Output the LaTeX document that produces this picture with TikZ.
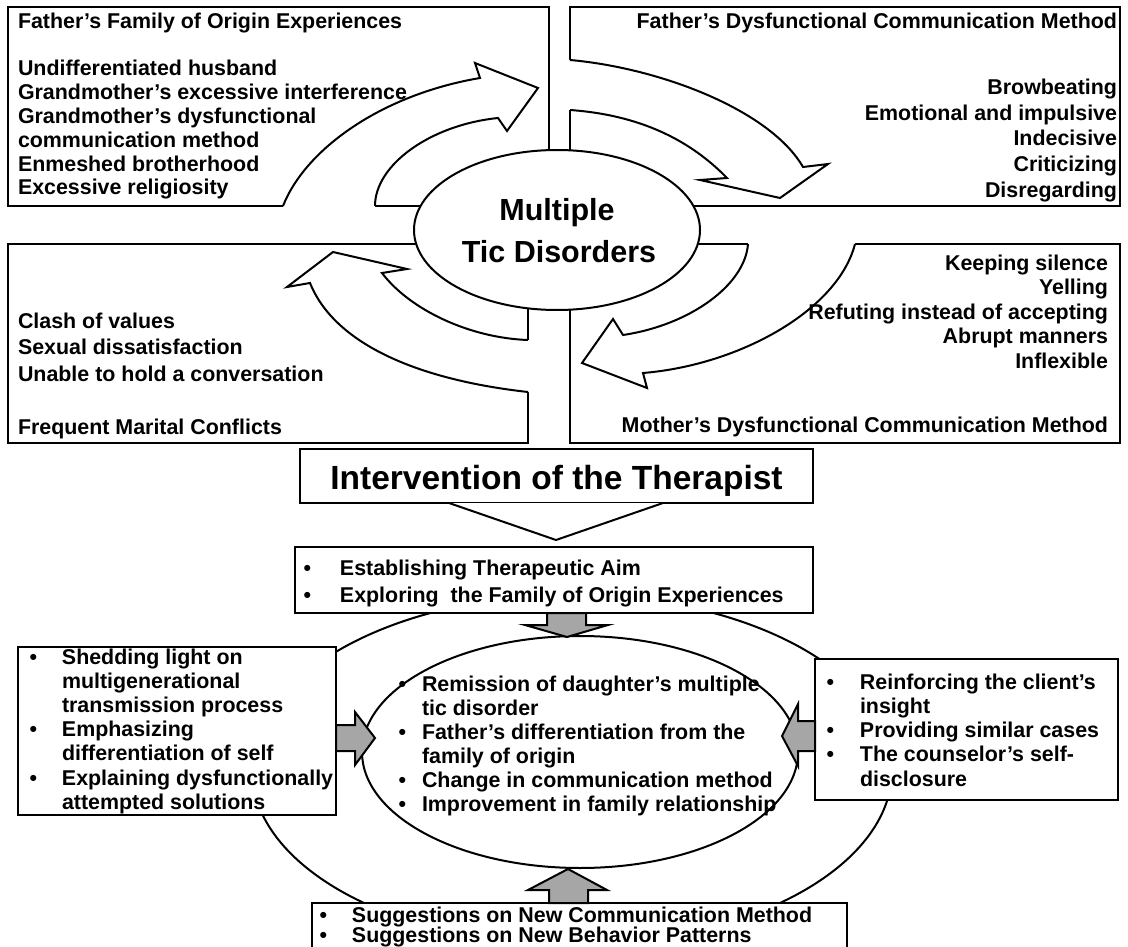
\documentclass[tikz,border=0pt]{standalone}
\usepackage{fontspec}
\setmainfont{Liberation Sans}
\usetikzlibrary{shapes.geometric}
\definecolor{pushgray}{RGB}{166,166,166}
\begin{document}
\begin{tikzpicture}[x=1pt,y=-1pt,line width=2pt,line join=miter,
  panel/.style={draw=black,fill=white,rectangle,inner sep=0pt,outer sep=0pt},
  oval/.style={draw=black,ellipse,inner sep=0pt,outer sep=0pt},
  txt/.style={font=\fontsize{21.4}{24}\selectfont\bfseries,inner sep=0pt,outer sep=0pt},
  bigtxt/.style={font=\fontsize{30.5}{36}\selectfont\bfseries,inner sep=0pt},
  headtxt/.style={font=\fontsize{33.5}{38}\selectfont\bfseries,inner sep=0pt},
  bendfill/.style={fill=white,draw=none},
  bendline/.style={draw=black},
  push/.style={draw=black,fill=pushgray}]
\useasboundingbox (0,0) rectangle (1128,947);
\fill[white] (0,0) rectangle (1128,947);

% four quadrant panels
\node[panel,minimum width=541pt,minimum height=199pt] (pTL) at (278.5,106.5) {};
\node[panel,minimum width=550pt,minimum height=199pt] (pTR) at (845,106.5) {};
\node[panel,minimum width=520pt,minimum height=199pt] (pBL) at (268,343.5) {};
\node[panel,minimum width=550pt,minimum height=199pt] (pBR) at (845,343.5) {};

% curved block arrows circling the centre
\path[bendfill] (283,206) .. controls (305,150) and (380,95) .. (480,78) -- (475,63) -- (538,88) -- (507,131) -- (498,118)
  .. controls (430,125) and (375,165) .. (375,206) -- (375,211) -- (283,211) -- cycle;
\path[bendline] (283,206) .. controls (305,150) and (380,95) .. (480,78) -- (475,63) -- (538,88) -- (507,131) -- (498,118)
  .. controls (430,125) and (375,165) .. (375,206);

\path[bendfill] (570,60) .. controls (660,68) and (770,110) .. (803,167) -- (828,164) -- (780,198) -- (700,180) -- (727,178)
  .. controls (690,140) and (640,115) .. (570,110) -- (566,110) -- (566,60) -- cycle;
\path[bendline] (570,60) .. controls (660,68) and (770,110) .. (803,167) -- (828,164) -- (780,198) -- (700,180) -- (727,178)
  .. controls (690,140) and (640,115) .. (570,110);

\path[bendfill] (528,340) .. controls (470,338) and (410,310) .. (382,273) -- (407,269) -- (333,252) -- (287,287) -- (310,283)
  .. controls (335,345) and (420,380) .. (528,392) -- (532,392) -- (532,340) -- cycle;
\path[bendline] (528,340) .. controls (470,338) and (410,310) .. (382,273) -- (407,269) -- (333,252) -- (287,287) -- (310,283)
  .. controls (335,345) and (420,380) .. (528,392);

\path[bendfill] (748,244) .. controls (745,285) and (690,325) .. (623,335) -- (613,319) -- (582,363) -- (647,388) -- (643,373)
  .. controls (740,365) and (838,310) .. (855,244) -- (855,240) -- (748,240) -- cycle;
\path[bendline] (748,244) .. controls (745,285) and (690,325) .. (623,335) -- (613,319) -- (582,363) -- (647,388) -- (643,373)
  .. controls (740,365) and (838,310) .. (855,244);

% central oval
\node[oval,fill=white,minimum width=286pt,minimum height=160pt] (core) at (557,230) {};

% therapist intervention
\node[panel,minimum width=513pt,minimum height=54pt] (interv) at (556.5,476) {};
\draw[fill=white] (449,503) -- (556,540) -- (663,503);

% outer ring and inner oval
\node[oval,minimum width=640pt,minimum height=350pt] (ring) at (572,770) {};
\node[oval,fill=white,minimum width=436pt,minimum height=232pt] (goal) at (580,752) {};

% technique panels
\node[panel,minimum width=518pt,minimum height=66pt] (aims) at (554,580) {};
\node[panel,minimum width=318pt,minimum height=168pt] (lpanel) at (177,731) {};
\node[panel,minimum width=303pt,minimum height=141pt] (rpanel) at (966.5,729.5) {};
\node[panel,minimum width=535pt,minimum height=46pt] (bpanel) at (579.5,926) {};

% grey block arrows pointing at the inner oval
\draw[push] (547,613) -- (547,625) -- (525,625) -- (567,637) -- (608,625) -- (586,625) -- (586,613) -- cycle;
\draw[push] (336,725) -- (355,725) -- (355,712) -- (375,738) -- (355,765) -- (355,751) -- (336,751) -- cycle;
\draw[push] (815,721) -- (798,721) -- (798,704) -- (782,736) -- (798,766) -- (798,751) -- (815,751) -- cycle;
\draw[push] (549,903) -- (549,890) -- (528,890) -- (568,869) -- (607,890) -- (588,890) -- (588,903) -- cycle;

% texts: father's family of origin
\node[txt,anchor=base west] (tlh) at (18,29) {Father’s Family of Origin Experiences};
\foreach \entry [count=\i] in {Undifferentiated husband,Grandmother’s excessive interference,Grandmother’s dysfunctional,communication method,Enmeshed brotherhood,Excessive religiosity}
  \node[txt,anchor=base west] (tl\i) at (18,{76+23.8*(\i-1)}) {\entry};

% father's communication
\node[txt,anchor=base east] (trh) at (1117,29) {Father’s Dysfunctional Communication Method};
\foreach \entry [count=\i] in {Browbeating,Emotional and impulsive,Indecisive,Criticizing,Disregarding}
  \node[txt,anchor=base east] (tr\i) at (1117,{95+25.5*(\i-1)}) {\entry};

% marital conflicts
\foreach \entry [count=\i] in {Clash of values,Sexual dissatisfaction,Unable to hold a conversation}
  \node[txt,anchor=base west] (bl\i) at (18,{328+26.5*(\i-1)}) {\entry};
\node[txt,anchor=base west] (blh) at (18,434) {Frequent Marital Conflicts};

% mother's communication
\foreach \entry [count=\i] in {Keeping silence,Yelling,Refuting instead of accepting,Abrupt manners,Inflexible}
  \node[txt,anchor=base east] (br\i) at (1108,{270+24.5*(\i-1)}) {\entry};
\node[txt,anchor=base east] (brh) at (1108,432) {Mother’s Dysfunctional Communication Method};

% centre title
\node[bigtxt,anchor=base] (core1) at (557,221) {Multiple};
\node[bigtxt,anchor=base] (core2) at (559,262) {Tic Disorders};

\node[headtxt,anchor=base] (intervt) at (556.5,489) {Intervention of the Therapist};

% aims
\node[txt,anchor=base west] (aim1) at (303.5,575) {\makebox[36.5pt][l]{•}Establishing Therapeutic Aim};
\node[txt,anchor=base west] (aim2) at (303.5,602) {\makebox[36.5pt][l]{•}Exploring\ \ the Family of Origin Experiences};

% left techniques
\node[txt,anchor=base west] (lt1) at (29.5,664) {\makebox[32.5pt][l]{•}Shedding light on};
\node[txt,anchor=base west] (lt2) at (62,688.2) {multigenerational};
\node[txt,anchor=base west] (lt3) at (62,712.4) {transmission process};
\node[txt,anchor=base west] (lt4) at (29.5,736.6) {\makebox[32.5pt][l]{•}Emphasizing};
\node[txt,anchor=base west] (lt5) at (62,760.8) {differentiation of self};
\node[txt,anchor=base west] (lt6) at (29.5,785) {\makebox[32.5pt][l]{•}Explaining dysfunctionally};
\node[txt,anchor=base west] (lt7) at (62,809.2) {attempted solutions};

% right techniques
\node[txt,anchor=base west] (rt1) at (826.5,689) {\makebox[33.5pt][l]{•}Reinforcing the client’s};
\node[txt,anchor=base west] (rt2) at (860,713) {insight};
\node[txt,anchor=base west] (rt3) at (826.5,737) {\makebox[33.5pt][l]{•}Providing similar cases};
\node[txt,anchor=base west] (rt4) at (826.5,761) {\makebox[33.5pt][l]{•}The counselor’s self-};
\node[txt,anchor=base west] (rt5) at (860,786) {disclosure};

% outcomes
\node[txt,anchor=base west] (oc1) at (398.5,691) {\makebox[23.5pt][l]{•}Remission of daughter’s multiple};
\node[txt,anchor=base west] (oc2) at (422,715) {tic disorder};
\node[txt,anchor=base west] (oc3) at (398.5,739) {\makebox[23.5pt][l]{•}Father’s differentiation from the};
\node[txt,anchor=base west] (oc4) at (422,763) {family of origin};
\node[txt,anchor=base west] (oc5) at (398.5,787) {\makebox[23.5pt][l]{•}Change in communication method};
\node[txt,anchor=base west] (oc6) at (398.5,811) {\makebox[23.5pt][l]{•}Improvement in family relationship};

% suggestions
\node[txt,anchor=base west] (sg1) at (319.5,922) {\makebox[32.5pt][l]{•}Suggestions on New Communication Method};
\node[txt,anchor=base west] (sg2) at (319.5,942) {\makebox[32.5pt][l]{•}Suggestions on New Behavior Patterns};
\end{tikzpicture}
\end{document}
